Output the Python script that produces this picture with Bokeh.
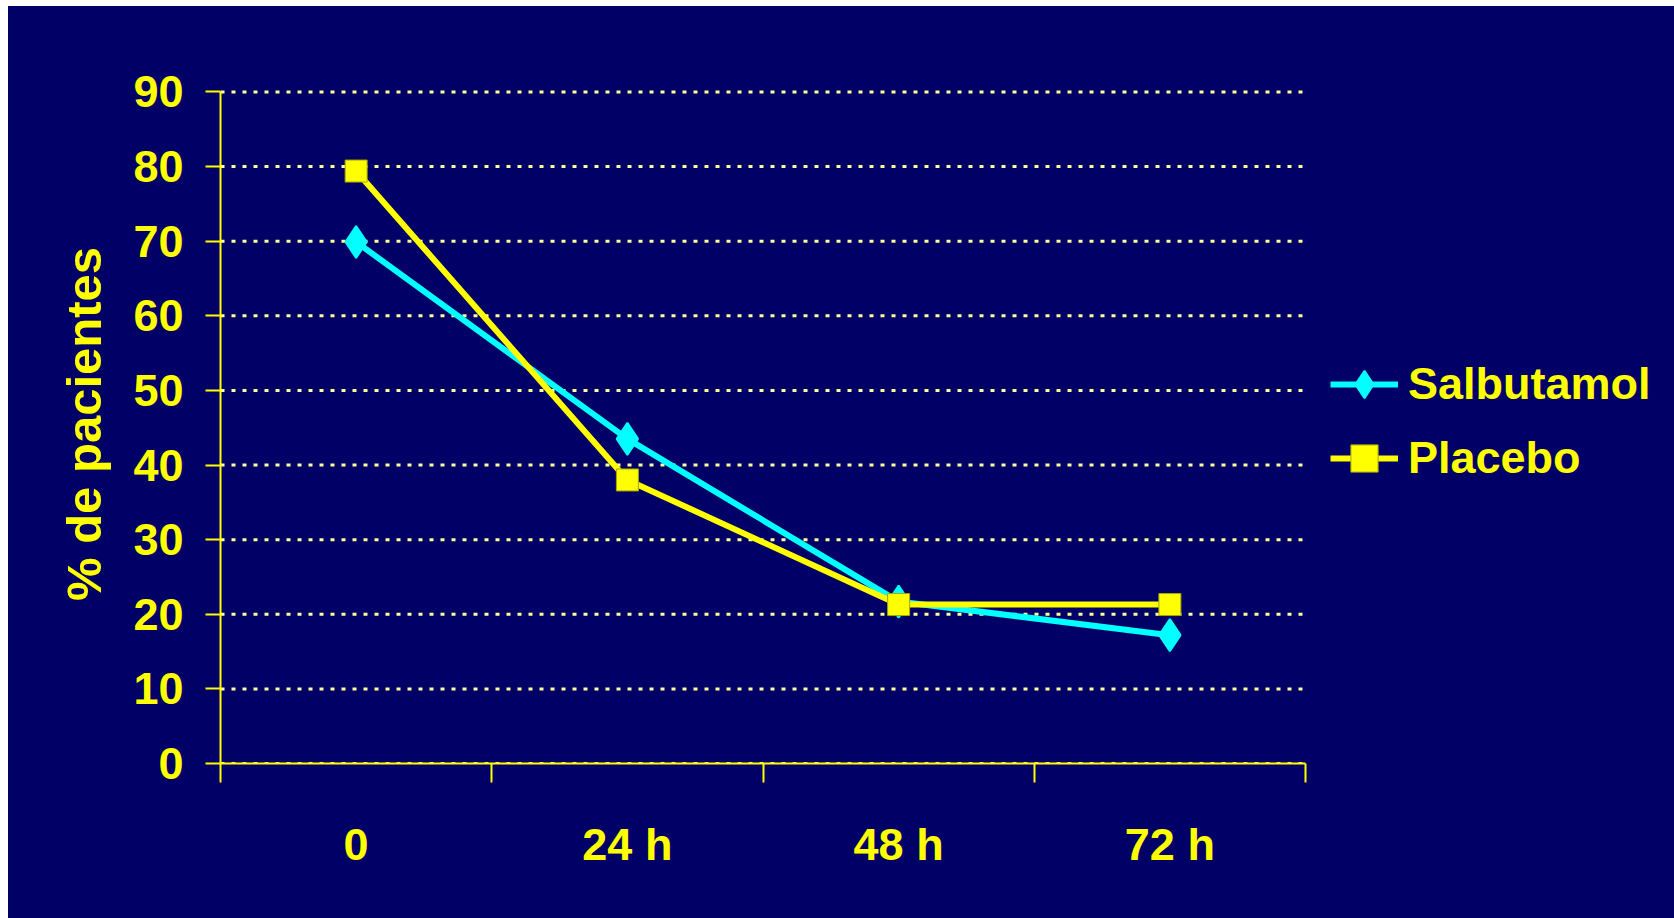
from bokeh.plotting import figure
from bokeh.models import FixedTicker, Legend, LegendItem, Range1d, Spacer
from bokeh.layouts import column, row
from bokeh.embed import file_html
from bokeh.resources import INLINE

categories = ["0", "24 h", "48 h", "72 h"]
salbutamol = [69.9, 43.5, 21.7, 17.2]
placebo = [79.4, 38.0, 21.3, 21.3]
y_ticks = [0, 10, 20, 30, 40, 50, 60, 70, 80, 90]

BG = "#000066"
YELLOW = "#FFFF00"
CYAN = "#00FFFF"
GRID = "#FFFF99"
FONT = "Liberation Sans"

n = len(categories)
x = [i + 0.5 for i in range(n)]

# frame spans the whole right side so the legend is not clipped;
# the axis itself covers 0..n (1085 px of the 1454 px frame)
x_end = n * 1454 / 1085
y_top = y_ticks[-1]

p = figure(width=1666, height=912, output_backend="svg", toolbar_location=None,
           x_range=Range1d(0, x_end), y_range=Range1d(0, y_top + 1),
           min_border_left=212, min_border_right=0, min_border_top=78,
           min_border_bottom=155,
           background_fill_alpha=0, border_fill_alpha=0,
           styles={"background-color": BG})
p.outline_line_color = None

# dotted gridlines limited to the axis extent
p.segment(x0=[0] * len(y_ticks), y0=y_ticks, x1=[n] * len(y_ticks), y1=y_ticks,
          line_color=GRID, line_width=3, line_dash="4 7", level="underlay")

r1l = p.line(x, salbutamol, line_color=CYAN, line_width=6)
r1m = p.scatter(x, salbutamol, marker="diamond", size=32, fill_color=CYAN,
                line_color=CYAN, line_width=2)
r2l = p.line(x, placebo, line_color=YELLOW, line_width=6)
r2m = p.scatter(x, placebo, marker="square", size=22, fill_color=YELLOW,
                line_color="#A6A600", line_width=1)

legend = Legend(items=[LegendItem(label="Salbutamol", renderers=[r1l, r1m]),
                       LegendItem(label="Placebo", renderers=[r2l, r2m])],
                location=(1110, 268), orientation="vertical",
                glyph_width=68, glyph_height=74, label_height=74, spacing=0,
                label_standoff=10, padding=0, margin=0,
                border_line_color=None, background_fill_alpha=0,
                label_text_color=YELLOW, label_text_font_size="45px",
                label_text_font_style="bold", label_text_font=FONT)
p.add_layout(legend)

xa = p.xaxis[0]
xa.bounds = (0, n)
xa.ticker = FixedTicker(ticks=x, minor_ticks=list(range(n + 1)))
xa.major_label_overrides = {xv: c for xv, c in zip(x, categories)}
xa.major_tick_out = 0
xa.major_tick_in = 0
xa.minor_tick_out = 19
xa.minor_tick_in = 0
xa.minor_tick_line_color = YELLOW
xa.minor_tick_line_width = 2
xa.axis_line_color = YELLOW
xa.axis_line_width = 2
xa.major_label_standoff = 36
xa.major_label_text_color = YELLOW
xa.major_label_text_font = FONT
xa.major_label_text_font_style = "bold"
xa.major_label_text_font_size = "45px"

ya = p.yaxis[0]
ya.bounds = (0, y_top)
ya.ticker = FixedTicker(ticks=y_ticks)
ya.major_tick_out = 15
ya.major_tick_in = 0
ya.major_tick_line_color = YELLOW
ya.major_tick_line_width = 2
ya.minor_tick_line_color = None
ya.axis_line_color = YELLOW
ya.axis_line_width = 2
ya.major_label_standoff = 22
ya.major_label_text_color = YELLOW
ya.major_label_text_font = FONT
ya.major_label_text_font_style = "bold"
ya.major_label_text_font_size = "45px"
ya.axis_label = "% de pacientes"
ya.axis_label_text_color = YELLOW
ya.axis_label_text_font = FONT
ya.axis_label_text_font_style = "bold"
ya.axis_label_text_font_size = "49px"
ya.axis_label_standoff = 19

p.xgrid.visible = False
p.ygrid.visible = False

layout = column(Spacer(height=6), row(Spacer(width=8), p))
open("out.html", "w").write(file_html(layout, INLINE))
